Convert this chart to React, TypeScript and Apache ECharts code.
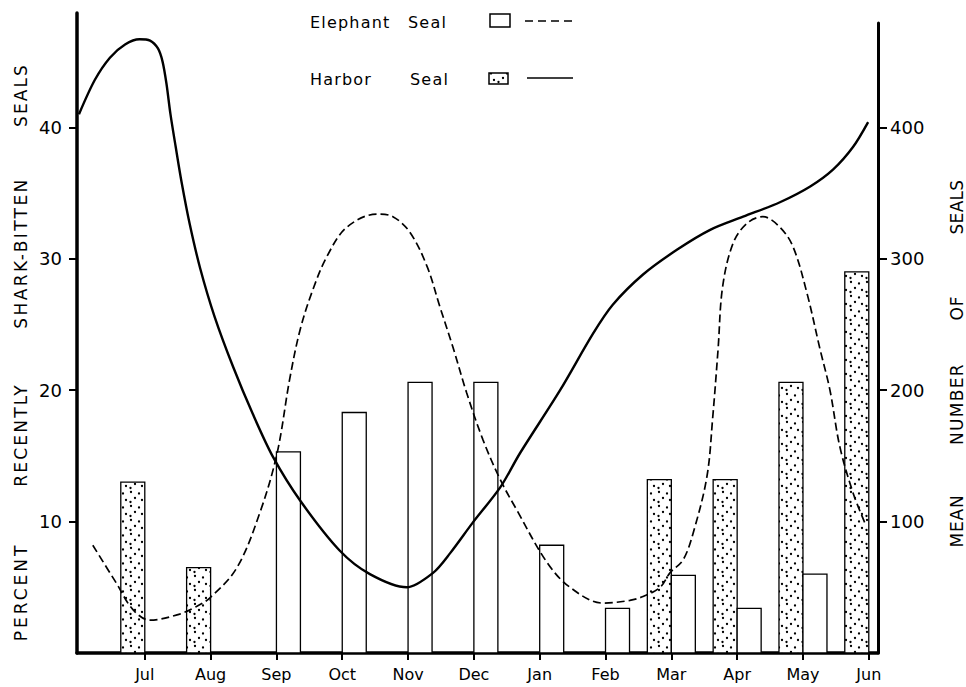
import React, { useEffect, useRef } from 'react';
import * as echarts from 'echarts';

// ---------- data ----------
const months = ['Jul', 'Aug', 'Sep', 'Oct', 'Nov', 'Dec', 'Jan', 'Feb', 'Mar', 'Apr', 'May', 'Jun'];
// percent recently shark-bitten seals (left axis)
const harborPercent = [13.0, 6.5, null, null, null, null, null, null, 13.2, 13.2, 20.6, 29.0];
const elephantPercent = [null, null, 15.3, 18.3, 20.6, 20.6, 8.2, 3.4, 5.9, 3.4, 6.0, null];
const leftTicks = [10, 20, 30, 40];
const rightTicks = [100, 200, 300, 400];
const monthTicks = [0, 1, 2, 3, 4, 5, 6, 7, 8, 9, 10, 11];

// mean number of seals (right axis); position in months, 0 = Jul
const harborCurveMonth = [-1.0, -0.76, -0.53, -0.3, -0.08, 0.08, 0.2, 0.27, 0.33, 0.39, 0.47, 0.56, 0.68, 0.84, 1.06, 1.34, 1.64, 1.95, 2.36, 2.96, 3.42, 3.98, 4.38, 4.64, 4.98, 5.4, 5.7, 6.31, 6.81, 7.11, 7.57, 8.09, 8.59, 9.09, 9.65, 10.11, 10.46, 10.76, 10.99];
const harborCurveCount = [410, 436, 453, 463, 467, 466, 460, 450, 433, 410, 385, 358, 327, 293, 256, 218, 182, 149, 116, 78, 60, 50, 61, 76, 99, 126, 152, 200, 243, 265, 288, 307, 322, 332, 343, 355, 368, 385, 404];
const elephantCurveMonth = [-0.79, -0.43, -0.18, 0.08, 0.49, 0.73, 0.99, 1.4, 1.75, 2.01, 2.2, 2.36, 2.55, 2.77, 3.07, 3.53, 3.77, 4.03, 4.29, 4.48, 4.68, 4.89, 5.14, 5.4, 5.65, 6.11, 6.46, 6.96, 7.37, 7.57, 7.83, 7.98, 8.18, 8.33, 8.54, 8.63, 8.71, 8.78, 8.94, 9.15, 9.39, 9.65, 9.85, 10.06, 10.26, 10.41, 10.56, 10.76, 10.94];
const elephantCurveCount = [82, 53, 33, 25, 29, 34, 42, 65, 107, 152, 208, 246, 276, 302, 324, 334, 332, 320, 294, 264, 233, 198, 162, 132, 109, 69, 50, 38, 40, 43, 50, 61, 71, 91, 134, 180, 231, 279, 312, 327, 332, 324, 309, 274, 231, 200, 157, 122, 99];

// ---------- styles ----------
const FONT = 'DejaVu Sans';
const BAR_W = 24;
const dotSvg =
  '<svg xmlns="http://www.w3.org/2000/svg" width="16" height="14">' +
  '<rect width="16" height="14" fill="white"/>' +
  '<circle cx="3" cy="2" r="1.15" fill="black"/>' +
  '<circle cx="11" cy="3.5" r="1.15" fill="black"/>' +
  '<circle cx="7" cy="8" r="1.15" fill="black"/>' +
  '<circle cx="14" cy="10" r="1.15" fill="black"/>' +
  '<circle cx="2.5" cy="12" r="1.15" fill="black"/>' +
  '</svg>';
const dotPattern: any = {
  image: 'data:image/svg+xml;charset=utf-8,' + encodeURIComponent(dotSvg),
  repeat: 'repeat',
  imageWidth: 16,
  imageHeight: 14,
};

const leftSpacing: Record<string, number> = { PERCENT: 3, RECENTLY: 2.2, 'SHARK-BITTEN': 2.4, SEALS: 2.1 };
const rightSpacing: Record<string, number> = { MEAN: 0.8, NUMBER: 1.3, OF: 1, SEALS: 0.3 };
const legendWords = ['Elephant', 'Harbor', 'Seal'];

function pairs(xs: number[], ys: (number | null)[]) {
  const out: number[][] = [];
  xs.forEach((x, i) => {
    const y = ys[i];
    if (y !== null && y !== undefined) out.push([x, y]);
  });
  return out;
}

function barRenderer(side: number, fill: any) {
  return (_params: any, api: any) => {
    const m = api.value(0);
    const v = api.value(1);
    const top = api.coord([m, v]);
    const base = api.coord([m, 0]);
    return {
      type: 'rect',
      shape: {
        x: side < 0 ? top[0] - BAR_W : top[0],
        y: top[1],
        width: BAR_W,
        height: base[1] - top[1],
      },
      style: { fill, stroke: '#000', lineWidth: 1.3 },
    };
  };
}

function titleText(text: string, x: number, y: number) {
  return {
    type: 'text',
    x,
    y,
    rotation: Math.PI / 2,
    style: {
      text,
      fill: '#000',
      fontSize: 17,
      fontFamily: FONT,
      align: 'center',
      verticalAlign: 'middle',
      textAlign: 'center',
      textVerticalAlign: 'middle',
    },
  };
}

function legendText(text: string, x: number, y: number) {
  return {
    type: 'text',
    x,
    y,
    style: {
      text,
      fill: '#000',
      fontSize: 16,
      fontFamily: FONT,
      align: 'left',
      verticalAlign: 'middle',
      textAlign: 'left',
      textVerticalAlign: 'middle',
    },
  };
}

function applySpacing(root: HTMLElement) {
  root.querySelectorAll('text').forEach((t) => {
    const s = (t.textContent || '').trim();
    const r = t.getBoundingClientRect();
    let ls = 0;
    if (r.right < 45) ls = leftSpacing[s] || 0;
    else if (r.left > 930) ls = rightSpacing[s] || 0;
    else if (r.top < 100 && legendWords.includes(s)) ls = 1.2;
    if (ls) (t as any).style.letterSpacing = ls + 'px';
  });
}

export default function App() {
  const ref = useRef<HTMLDivElement>(null);

  useEffect(() => {
    document.body.style.margin = '0';
    const el = ref.current!;
    const chart = echarts.init(el, null, { renderer: 'svg' });

    const axisBlack = { color: '#000' };
    const option: any = {
      animation: false,
      backgroundColor: '#fff',
      grid: [
        { left: 77, right: 88, top: 13, bottom: 34 },
        { left: 77, right: 88, top: 23, bottom: 34 },
      ],
      xAxis: [
        {
          type: 'value',
          gridIndex: 0,
          min: -1.03,
          max: 11.14,
          splitLine: { show: false },
          axisLine: { show: true, onZero: false, lineStyle: { ...axisBlack, width: 3.5 } },
          axisTick: { show: true, customValues: monthTicks, length: 7, lineStyle: { ...axisBlack, width: 2 } },
          axisLabel: {
            customValues: monthTicks,
            formatter: (v: number) => months[Math.round(v)],
            color: '#000',
            fontSize: 16,
            fontFamily: FONT,
            margin: 13,
          },
        },
        { type: 'value', gridIndex: 1, min: 0, max: 1, show: false },
      ],
      yAxis: [
        {
          type: 'value',
          gridIndex: 0,
          position: 'left',
          min: 0,
          max: 48.7,
          splitLine: { show: false },
          axisLine: { show: true, onZero: false, lineStyle: { ...axisBlack, width: 3.5 } },
          axisTick: { show: true, customValues: leftTicks, length: 8, lineStyle: { ...axisBlack, width: 2 } },
          axisLabel: { customValues: leftTicks, color: '#000', fontSize: 18, fontFamily: FONT, margin: 15 },
        },
        { type: 'value', gridIndex: 0, min: 0, max: 487, show: false },
        {
          type: 'value',
          gridIndex: 1,
          position: 'right',
          min: 0,
          max: 479.5,
          splitLine: { show: false },
          axisLine: { show: true, onZero: false, lineStyle: { ...axisBlack, width: 3 } },
          axisTick: { show: true, customValues: rightTicks, length: 9, lineStyle: { ...axisBlack, width: 2 } },
          axisLabel: { customValues: rightTicks, color: '#000', fontSize: 18, fontFamily: FONT, margin: 12 },
        },
      ],
      series: [
        {
          name: 'Harbor Seal bitten',
          type: 'custom',
          xAxisIndex: 0,
          yAxisIndex: 0,
          encode: { x: 0, y: 1 },
          renderItem: barRenderer(-1, dotPattern),
          data: pairs(monthTicks, harborPercent),
          z: 2,
        },
        {
          name: 'Elephant Seal bitten',
          type: 'custom',
          xAxisIndex: 0,
          yAxisIndex: 0,
          encode: { x: 0, y: 1 },
          renderItem: barRenderer(1, '#fff'),
          data: pairs(monthTicks, elephantPercent),
          z: 2,
        },
        {
          name: 'Harbor Seal',
          type: 'line',
          xAxisIndex: 0,
          yAxisIndex: 1,
          smooth: 0.3,
          symbol: 'none',
          lineStyle: { color: '#000', width: 2.4 },
          data: pairs(harborCurveMonth, harborCurveCount),
          z: 3,
        },
        {
          name: 'Elephant Seal',
          type: 'line',
          xAxisIndex: 0,
          yAxisIndex: 1,
          smooth: 0.35,
          symbol: 'none',
          lineStyle: { color: '#000', width: 1.7, type: [8, 4] },
          data: pairs(elephantCurveMonth, elephantCurveCount),
          z: 3,
        },
      ],
      graphic: [
        titleText('SEALS', 21, 95),
        titleText('SHARK-BITTEN', 21, 253),
        titleText('RECENTLY', 21, 435),
        titleText('PERCENT', 21, 592),
        titleText('SEALS', 957, 207),
        titleText('OF', 957, 308),
        titleText('NUMBER', 957, 404),
        titleText('MEAN', 957, 521),
        legendText('Elephant', 310, 22),
        legendText('Seal', 408, 22),
        legendText('Harbor', 310, 79),
        legendText('Seal', 410, 79),
        {
          type: 'rect',
          shape: { x: 490, y: 14, width: 20, height: 13 },
          style: { fill: '#fff', stroke: '#000', lineWidth: 1.5 },
        },
        {
          type: 'line',
          shape: { x1: 525, y1: 21, x2: 573, y2: 21 },
          style: { stroke: '#000', lineWidth: 1.5, lineDash: [8, 5] },
        },
        {
          type: 'rect',
          shape: { x: 489, y: 73, width: 19, height: 11 },
          style: { fill: dotPattern, stroke: '#000', lineWidth: 1.5 },
        },
        {
          type: 'line',
          shape: { x1: 527, y1: 78, x2: 573, y2: 78 },
          style: { stroke: '#000', lineWidth: 1.5 },
        },
      ],
    };

    chart.setOption(option);
    applySpacing(el);
    return () => chart.dispose();
  }, []);

  return <div ref={ref} style={{ width: 966, height: 687 }} />;
}
